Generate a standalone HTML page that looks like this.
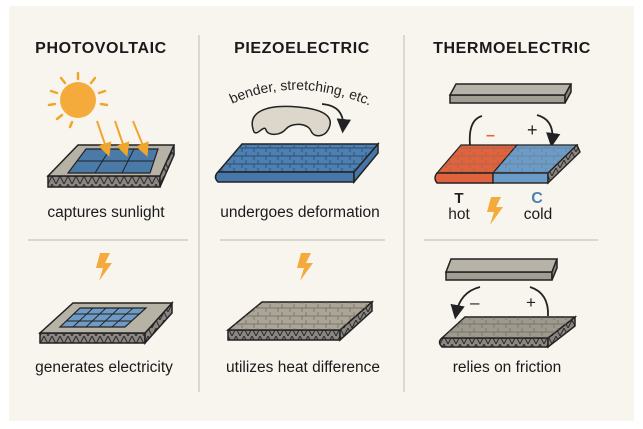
<!DOCTYPE html>
<html><head><meta charset="utf-8"><style>
html,body{margin:0;padding:0;background:#fff;}
svg{display:block;font-family:"Liberation Sans",sans-serif;}
</style></head><body>
<svg width="643" height="429" viewBox="0 0 643 429" xmlns="http://www.w3.org/2000/svg">
<defs>
<pattern id="zz" width="8" height="8" patternUnits="userSpaceOnUse">
<rect width="8" height="8" fill="#8a8580"/><path d="M0 8L4 0L8 8" stroke="#2a2a2a" stroke-width="1" fill="none"/></pattern>
<pattern id="cr" width="12" height="8" patternUnits="userSpaceOnUse">
<path d="M0 4H12M6 0V4M2 4V8" stroke="#6f6a60" stroke-width="0.7" fill="none"/></pattern>
<pattern id="crb" width="12" height="8" patternUnits="userSpaceOnUse">
<path d="M0 4H12M6 0V4M2 4V8" stroke="#2c4f78" stroke-width="0.9" fill="none"/></pattern>
<marker id="ah" markerWidth="8" markerHeight="8" refX="5" refY="4" orient="auto"><path d="M0 0L8 4L0 8Z" fill="#222"/></marker>
<marker id="ao" markerWidth="7" markerHeight="7" refX="5" refY="3.5" orient="auto"><path d="M0 0L7 3.5L0 7Z" fill="#f0a52c"/></marker>
<path id="bolt" d="M4 0L14 0L9 10L16 10L3 28L7 15L0 15Z"/>
<path id="tp" d="M232 104 Q300 72 384 112"/>
</defs>
<rect x="9" y="6" width="625" height="415" fill="#f8f5ef"/>
<line x1="199" y1="35" x2="199" y2="392" stroke="#c9c5bd" stroke-width="1.2"/>
<line x1="404" y1="35" x2="404" y2="392" stroke="#c9c5bd" stroke-width="1.2"/>
<line x1="28" y1="240" x2="188" y2="240" stroke="#c9c5bd" stroke-width="1.2"/>
<line x1="220" y1="240" x2="385" y2="240" stroke="#c9c5bd" stroke-width="1.2"/>
<line x1="424" y1="240" x2="598" y2="240" stroke="#c9c5bd" stroke-width="1.2"/>

<g font-weight="bold" font-size="16" fill="#1a1a1a" text-anchor="middle" letter-spacing="0.6">
<text x="101" y="53">PHOTOVOLTAIC</text>
<text x="302" y="53">PIEZOELECTRIC</text>
<text x="512" y="53">THERMOELECTRIC</text>
</g>
<g font-size="15.5" fill="#1a1a1a" text-anchor="middle">
<text x="106" y="217">captures sunlight</text>
<text x="300" y="217">undergoes deformation</text>
<text x="538" y="219">cold</text>
<text x="104" y="372">generates electricity</text>
<text x="303" y="372">utilizes heat difference</text>
<text x="507" y="372">relies on friction</text>
</g>

<!-- sun -->
<g stroke="#f0a52c" stroke-width="2.5" stroke-linecap="round">
<line x1="78" y1="73" x2="78" y2="79"/><line x1="61" y1="78" x2="65" y2="83"/><line x1="95" y1="78" x2="91" y2="83"/>
<line x1="51" y1="91" x2="57" y2="93"/><line x1="105" y1="91" x2="99" y2="93"/>
<line x1="49" y1="105" x2="55" y2="104"/><line x1="107" y1="105" x2="101" y2="104"/>
<line x1="57" y1="119" x2="62" y2="115"/><line x1="70" y1="127" x2="72" y2="122"/>
</g>
<circle cx="78" cy="100" r="18" fill="#f4ab3c"/>
<!-- PV1 slab -->
<polygon points="48,176 160,176 160,187 48,187" fill="url(#zz)" stroke="#222" stroke-width="1.5"/>
<polygon points="160,176 174,145 174,155 160,187" fill="url(#zz)" stroke="#222" stroke-width="1.5"/>
<polygon points="48,176 160,176 174,145 78,145" fill="#b7b2a6" stroke="#222" stroke-width="1.5"/>
<polygon points="68,173 150,173 158,149 86,149" fill="#4a7aa8" stroke="#222" stroke-width="1.2"/>
<g stroke="#222" stroke-width="1"><line x1="77" y1="161" x2="154" y2="161"/><line x1="95" y1="173" x2="110" y2="149"/><line x1="122" y1="173" x2="134" y2="149"/></g>
<g stroke="#f0a52c" stroke-width="2" marker-end="url(#ao)">
<line x1="97" y1="121" x2="108" y2="153"/><line x1="115" y1="121" x2="126" y2="153"/><line x1="133" y1="121" x2="146" y2="153"/></g>
<!-- PV2 -->
<use href="#bolt" x="96" y="253" fill="#f4ab3c"/>
<polygon points="40,333 145,333 145,343 40,343" fill="url(#zz)" stroke="#222" stroke-width="1.5"/>
<polygon points="145,333 172,303 172,313 145,343" fill="url(#zz)" stroke="#222" stroke-width="1.5"/>
<polygon points="40,333 145,333 172,303 73,303" fill="#b7b2a6" stroke="#222" stroke-width="1.5"/>
<polygon points="60,327 125,327 146,308 80,308" fill="#6f9ac4" stroke="#222" stroke-width="1.2"/>
<g stroke="#222" stroke-width="0.9"><line x1="67" y1="321" x2="132" y2="321"/><line x1="74" y1="314" x2="139" y2="314"/>
<line x1="73" y1="327" x2="93" y2="308"/><line x1="86" y1="327" x2="106" y2="308"/><line x1="99" y1="327" x2="119" y2="308"/><line x1="112" y1="327" x2="133" y2="308"/></g>

<!-- Piezo 1 -->
<text font-size="14" fill="#222"><textPath href="#tp">bender, stretching, etc.</textPath></text>
<path d="M254 132 C246 112 266 104 298 107 C322 109 336 116 328 130 C324 137 314 138 311 131 C308 123 292 122 286 129 C280 136 268 136 266 130 C264 124 258 136 254 132Z" fill="#ddd7cb" stroke="#222" stroke-width="1.5"/>
<path d="M322 104 Q345 106 343 128" stroke="#222" stroke-width="1.8" fill="none" marker-end="url(#ah)"/>
<path d="M218 172 L354 172 L378 144 L242 144 Z" fill="#4d7fb0" stroke="#222" stroke-width="1.5"/>
<path d="M218 172 L354 172 L378 144 L242 144 Z" fill="url(#crb)"/>
<path d="M218 172 L354 172 L354 182 L218 182 Q213 177 218 172Z" fill="#4677a8" stroke="#222" stroke-width="1.5"/>
<path d="M354 172 L378 144 L378 153 L354 182Z" fill="#4677a8" stroke="#222" stroke-width="1.5"/>
<!-- Piezo 2 -->
<use href="#bolt" x="297" y="253" fill="#f4ab3c"/>
<polygon points="228,330 340,330 340,340 228,340" fill="url(#zz)" stroke="#222" stroke-width="1.5"/>
<polygon points="340,330 372,302 372,311 340,340" fill="url(#zz)" stroke="#222" stroke-width="1.5"/>
<polygon points="228,330 340,330 372,302 262,302" fill="#aaa596" stroke="#222" stroke-width="1.5"/>
<polygon points="228,330 340,330 372,302 262,302" fill="url(#cr)"/>

<!-- Thermo 1 -->
<polygon points="450,103 565,103 565,95 450,95" fill="#a29d92" stroke="#222" stroke-width="1.5"/>
<polygon points="450,95 565,95 571,84 456,84" fill="#b8b3a8" stroke="#222" stroke-width="1.5"/>
<polygon points="565,103 571,92 571,84 565,95" fill="#8a857b" stroke="#222" stroke-width="1.5"/>
<path d="M470 145 Q468 120 482 116" stroke="#222" stroke-width="1.8" fill="none"/>
<path d="M537 115 Q555 120 552 142" stroke="#222" stroke-width="1.8" fill="none" marker-end="url(#ah)"/>
<text x="486" y="140" font-size="16" fill="#e0633e" font-weight="bold">–</text>
<text x="527" y="136" font-size="18" fill="#222">+</text>
<polygon points="437,173 493,173 517,145 461,145" fill="#e0633e" stroke="#222" stroke-width="1.2"/>
<polygon points="493,173 548,173 577,145 517,145" fill="#6b9bc8" stroke="#222" stroke-width="1.2"/>
<polygon points="437,173 548,173 577,145 461,145" fill="url(#cr)" opacity="0.6"/>
<path d="M437 173 L493 173 L493 183 L437 183 Q433 178 437 173Z" fill="#e0633e" stroke="#222" stroke-width="1.4"/>
<rect x="493" y="173" width="55" height="10" fill="#6b9bc8" stroke="#222" stroke-width="1.4"/>
<polygon points="548,173 577,145 580,152 548,183" fill="url(#zz)" stroke="#222" stroke-width="1.4"/>
<text x="459" y="203" font-size="15" font-weight="bold" fill="#222" text-anchor="middle">T</text>
<text x="459" y="219" font-size="15.5" fill="#222" text-anchor="middle">hot</text>
<text x="537" y="203" font-size="16" font-weight="bold" fill="#4d7fb0" text-anchor="middle">C</text>
<use href="#bolt" x="487" y="197" fill="#f4ab3c"/>
<!-- Thermo 2 -->
<polygon points="446,280 552,280 552,272 446,272" fill="#a29d92" stroke="#222" stroke-width="1.5"/>
<polygon points="446,272 552,272 557,259 451,259" fill="#b8b3a8" stroke="#222" stroke-width="1.5"/>
<polygon points="552,280 557,268 557,259 552,272" fill="#8a857b" stroke="#222" stroke-width="1.5"/>
<path d="M480 287 Q460 292 456 314" stroke="#222" stroke-width="1.8" fill="none" marker-end="url(#ah)"/>
<path d="M530 287 Q549 293 548 316" stroke="#222" stroke-width="1.8" fill="none"/>
<text x="470" y="308" font-size="17" fill="#222">–</text>
<text x="526" y="308" font-size="17" fill="#222">+</text>
<path d="M442 338 L548 338 L548 347 L442 347 Q437 342 442 338Z" fill="url(#zz)" stroke="#222" stroke-width="1.5"/>
<polygon points="548,338 575,317 575,326 548,347" fill="url(#zz)" stroke="#222" stroke-width="1.5"/>
<polygon points="442,338 548,338 575,317 465,317" fill="#9e998d" stroke="#222" stroke-width="1.5"/>
<polygon points="442,338 548,338 575,317 465,317" fill="url(#cr)"/>
</svg>
</body></html>
